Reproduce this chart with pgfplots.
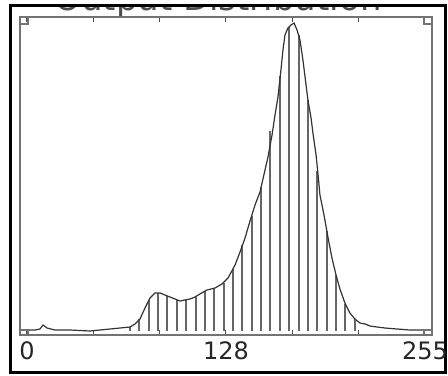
\documentclass[border=0pt]{standalone}
\usepackage{pgfplots}
\pgfplotsset{compat=1.18}
\usepackage{fontspec}
\setmainfont{DejaVu Sans}
\begin{document}
\begin{tikzpicture}
\useasboundingbox (0pt,0pt) rectangle (224pt,-187.5pt);
\clip (0pt,0pt) rectangle (224pt,-187.5pt);
\begin{scope}[x=0.5pt,y=-0.5pt]
\node[anchor=base, inner sep=0pt, text=black!70, font=\fontsize{17}{20}\selectfont] at (218,10.5) {Output Distribution};
\fill[white] (-5,-5) rectangle (453,5);
\draw[black, line width=1.5pt] (10.5,5.5) rectangle (445.5,372);
\end{scope}
\begin{axis}[
  at={(10pt,-167.5pt)}, anchor=south west,
  width=206pt, height=159pt, scale only axis,
  xmin=-4.48, xmax=259.5, ymin=-4, ymax=314,
  xtick={0,42.5,85,127.5,170,212.5,255},
  xticklabels={0,,,128,,,{255\hspace{10pt}}},
  ytick=\empty,
  tick align=inside,
  major tick length=2.5pt,
  tick style={black!70, line width=0.5pt},
  axis line style={black!55, line width=1pt},
  x tick label style={font=\fontsize{12}{14}\selectfont, text=black!85},
  clip=true,
]
\addplot[ycomb, black!60, line width=1pt, no markers] coordinates {
(66,4) (72,12) (78,31) (84,38) (90,35) (96,31) (102,31) (108,34) (114,40)
(120,43) (126,48) (132,62) (138,86) (144,115) (150,144) (156,200) (162,255)
(168,304) (174,296) (180,231) (186,160) (192,100) (198,56) (204,27) (210,12)
};
\addplot[black!80, line width=0.6pt, no markers] coordinates {
(0,1) (5.1,1) (8.3,2) (10.3,6) (12.8,3) (17.9,1) (27.5,1) (40.4,0) (46.8,1)
(53.2,2) (59.6,3) (66.0,4) (69.2,7) (72.4,12) (75.6,23) (78.8,33) (82.0,38)
(85.2,38) (88.4,36) (91.6,34) (94.8,32) (98.0,30) (101.2,31) (104.4,32)
(107.6,34) (110.8,37) (115.3,41) (120.5,43) (124.9,47) (128.8,53) (133.3,66)
(136.5,79) (139.7,93) (142.9,110) (146.1,126) (149.3,139) (152.5,161)
(154.4,174) (157.0,196) (158.9,216) (160.8,234) (162.7,261) (164.0,281)
(165.3,296) (167.2,303) (169.1,306) (171.1,308) (173.0,301) (174.9,291)
(176.8,271) (178.8,246) (180.0,231) (182.0,213) (183.2,198) (185.2,176)
(186.4,158) (187.7,136) (190.3,116) (192.8,94) (195.4,73) (198.0,56)
(200.5,42) (203.7,28) (206.9,18) (210.1,12) (213.3,8) (216.6,7) (219.8,5)
(224.2,4) (229.4,3) (237.1,2) (245.4,1) (255,1)
};
\end{axis}
\begin{scope}[x=0.5pt,y=-0.5pt]
\draw[black!55, line width=0.6pt] (20,17) rectangle (28,24);
\draw[black!55, line width=0.6pt] (424,17) rectangle (432,24);
\draw[black!55, line width=0.6pt] (20,330) rectangle (28,335);
\draw[black!55, line width=0.6pt] (424,330) rectangle (432,335);
\end{scope}
\end{tikzpicture}
\end{document}
